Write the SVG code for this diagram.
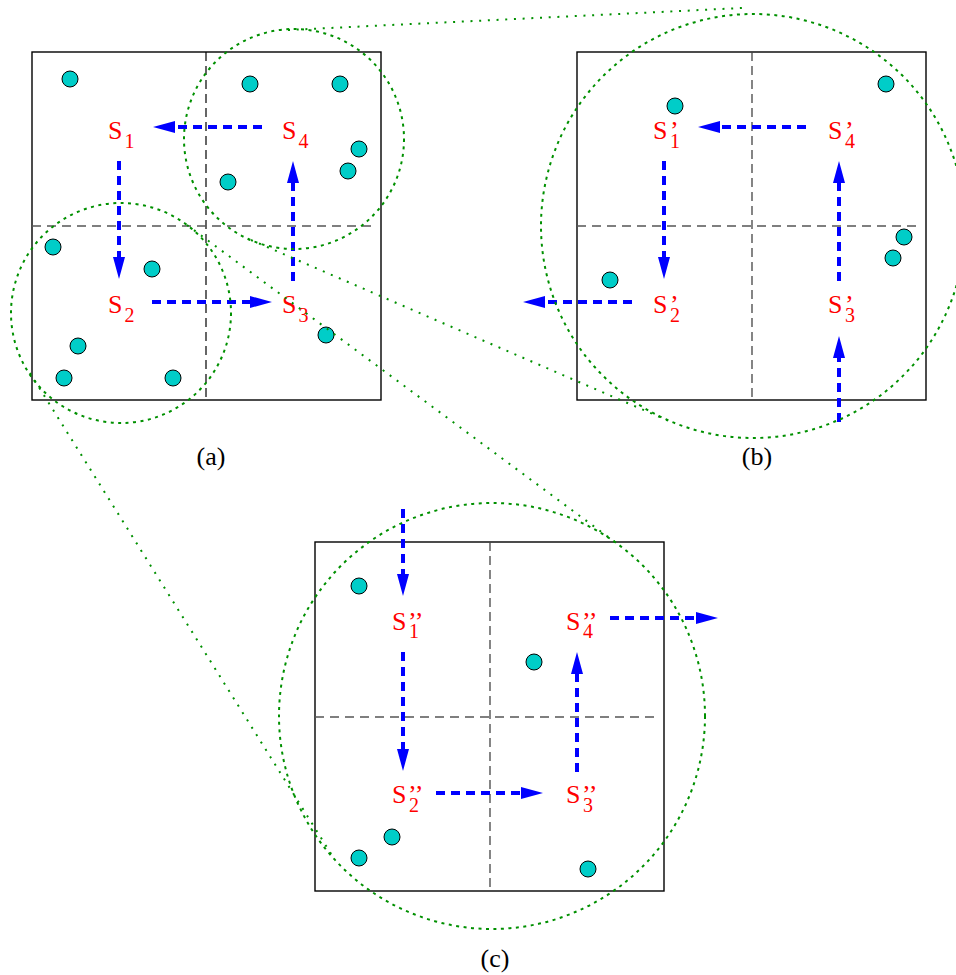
<svg xmlns="http://www.w3.org/2000/svg" width="956" height="975" viewBox="0 0 956 975">
  <defs>
    <marker id="head" viewBox="0 0 22 12" refX="0" refY="6" markerWidth="22" markerHeight="12" markerUnits="userSpaceOnUse" orient="auto">
      <path d="M0,0 L22,6 L0,12 z" fill="#0000ff"/>
    </marker>
    <style>
      .frame { fill: none; stroke: #000; stroke-width: 1.4; }
      .vgrid { fill: none; stroke: #444; stroke-width: 1.3; stroke-dasharray: 9 5; }
      .vgrid-a { fill: none; stroke: #000; stroke-width: 1.2; stroke-dasharray: 9 5; }
      .hgrid { fill: none; stroke: #555; stroke-width: 1.6; stroke-dasharray: 9 6; }
      .sensor { fill: #00cdc8; stroke: #000; stroke-width: 1; }
      .flow { fill: none; stroke: #0000ff; stroke-width: 4; stroke-dasharray: 9 6; marker-end: url(#head); }
      .range { fill: none; stroke: #009000; stroke-width: 2; stroke-dasharray: 3 4.5; }
      .zoomline { fill: none; stroke: #009000; stroke-width: 2; stroke-dasharray: 2 6.7; }
    </style>
  </defs>

  <rect width="956" height="975" fill="#fff"/>

  <!-- Panel (a) -->
  <g id="panel-a">
    <rect class="frame" x="32" y="52" width="349" height="348"/>
    <line class="vgrid-a" x1="206" y1="52" x2="206" y2="400"/>
    <line class="hgrid" x1="32" y1="226" x2="373" y2="226"/>
    <g id="sensors-a">
      <circle class="sensor" cx="70" cy="79" r="8"/>
      <circle class="sensor" cx="250" cy="84" r="8"/>
      <circle class="sensor" cx="340" cy="84" r="8"/>
      <circle class="sensor" cx="359" cy="149" r="8"/>
      <circle class="sensor" cx="348" cy="171" r="8"/>
      <circle class="sensor" cx="228" cy="182" r="8"/>
      <circle class="sensor" cx="53" cy="247" r="8"/>
      <circle class="sensor" cx="152" cy="269" r="8"/>
      <circle class="sensor" cx="78" cy="346" r="8"/>
      <circle class="sensor" cx="64" cy="378" r="8"/>
      <circle class="sensor" cx="173" cy="378" r="8"/>
      <circle class="sensor" cx="326" cy="335" r="8"/>
    </g>
    <text x="211" y="465" font-family="Liberation Serif, Times New Roman, serif" font-size="26" fill="#000" text-anchor="middle">(a)</text>
  </g>

  <!-- Panel (b) -->
  <g id="panel-b">
    <rect class="frame" x="577" y="52" width="349" height="348"/>
    <line class="vgrid" x1="752" y1="52" x2="752" y2="400"/>
    <line class="hgrid" x1="577" y1="226" x2="918" y2="226"/>
    <g id="sensors-b">
      <circle class="sensor" cx="886" cy="84" r="8"/>
      <circle class="sensor" cx="675" cy="106" r="8"/>
      <circle class="sensor" cx="904" cy="237" r="8"/>
      <circle class="sensor" cx="893" cy="258" r="8"/>
      <circle class="sensor" cx="610" cy="280" r="8"/>
    </g>
    <text x="757" y="465" font-family="Liberation Serif, Times New Roman, serif" font-size="26" fill="#000" text-anchor="middle">(b)</text>
  </g>

  <!-- Panel (c) -->
  <g id="panel-c">
    <rect class="frame" x="315" y="542" width="349" height="349"/>
    <line class="vgrid" x1="490" y1="542" x2="490" y2="891"/>
    <line class="hgrid" x1="315" y1="717" x2="657" y2="717"/>
    <g id="sensors-c">
      <circle class="sensor" cx="359" cy="586" r="8"/>
      <circle class="sensor" cx="534" cy="662" r="8"/>
      <circle class="sensor" cx="392" cy="837" r="8"/>
      <circle class="sensor" cx="359" cy="858" r="8"/>
      <circle class="sensor" cx="588" cy="869" r="8"/>
    </g>
    <text x="495" y="967" font-family="Liberation Serif, Times New Roman, serif" font-size="26" fill="#000" text-anchor="middle">(c)</text>
  </g>

  <!-- State nodes: letter, prime marks and cell index -->
  <g font-family="Liberation Serif, Times New Roman, serif" fill="#ff0000">
    <g id="S1"><text x="108" y="139" font-size="26">S</text><text x="124.5" y="148" font-size="20">1</text></g>
    <g id="S2"><text x="108" y="313" font-size="26">S</text><text x="124.5" y="322" font-size="20">2</text></g>
    <g id="S3"><text x="282" y="313" font-size="26">S</text><text x="298.5" y="322" font-size="20">3</text></g>
    <g id="S4"><text x="282" y="139" font-size="26">S</text><text x="298.5" y="148" font-size="20">4</text></g>

    <g id="S1p"><text x="653" y="139" font-size="26">S</text><text x="670" y="139" font-size="26">’</text><text x="670" y="148" font-size="20">1</text></g>
    <g id="S2p"><text x="653" y="313" font-size="26">S</text><text x="670" y="313" font-size="26">’</text><text x="670" y="322" font-size="20">2</text></g>
    <g id="S3p"><text x="828" y="313" font-size="26">S</text><text x="845" y="313" font-size="26">’</text><text x="845" y="322" font-size="20">3</text></g>
    <g id="S4p"><text x="828" y="139" font-size="26">S</text><text x="845" y="139" font-size="26">’</text><text x="845" y="148" font-size="20">4</text></g>

    <g id="S1pp"><text x="392" y="630" font-size="26">S</text><text x="408" y="630" font-size="26">’’</text><text x="409" y="638" font-size="20">1</text></g>
    <g id="S2pp"><text x="392" y="803" font-size="26">S</text><text x="408" y="803" font-size="26">’’</text><text x="409" y="812" font-size="20">2</text></g>
    <g id="S3pp"><text x="566" y="803" font-size="26">S</text><text x="582" y="803" font-size="26">’’</text><text x="583" y="812" font-size="20">3</text></g>
    <g id="S4pp"><text x="566" y="630" font-size="26">S</text><text x="582" y="630" font-size="26">’’</text><text x="583" y="638" font-size="20">4</text></g>
  </g>

  <!-- Connectors: movement between cells -->
  <g id="connectors">
    <path class="flow" d="M262,127 H175"/>
    <path class="flow" d="M119,161 V257"/>
    <path class="flow" d="M152,302 H250"/>
    <path class="flow" d="M293,281 V183"/>

    <path class="flow" d="M806,127 H720"/>
    <path class="flow" d="M664,161 V257"/>
    <path class="flow" d="M632,302 H545"/>
    <path class="flow" d="M839,281 V183"/>
    <path class="flow" d="M839,422 V358"/>

    <path class="flow" d="M403,509 V574"/>
    <path class="flow" d="M403,652 V749"/>
    <path class="flow" d="M436,793 H521"/>
    <path class="flow" d="M577,772 V674"/>
    <path class="flow" d="M610,618 H696"/>
  </g>

  <!-- Communication ranges and magnification guides -->
  <g id="ranges">
    <circle class="range" cx="294" cy="139" r="110"/>
    <circle class="range" cx="121" cy="313" r="110"/>
    <circle class="range" cx="753" cy="226" r="212"/>
    <circle class="range" cx="492" cy="716" r="213"/>
    <line class="zoomline" x1="288" y1="30" x2="742" y2="8"/>
    <line class="zoomline" x1="251" y1="240" x2="669" y2="421"/>
    <line class="zoomline" x1="187" y1="225" x2="619" y2="545"/>
    <line class="zoomline" x1="30" y1="373" x2="333" y2="857"/>
  </g>
</svg>
